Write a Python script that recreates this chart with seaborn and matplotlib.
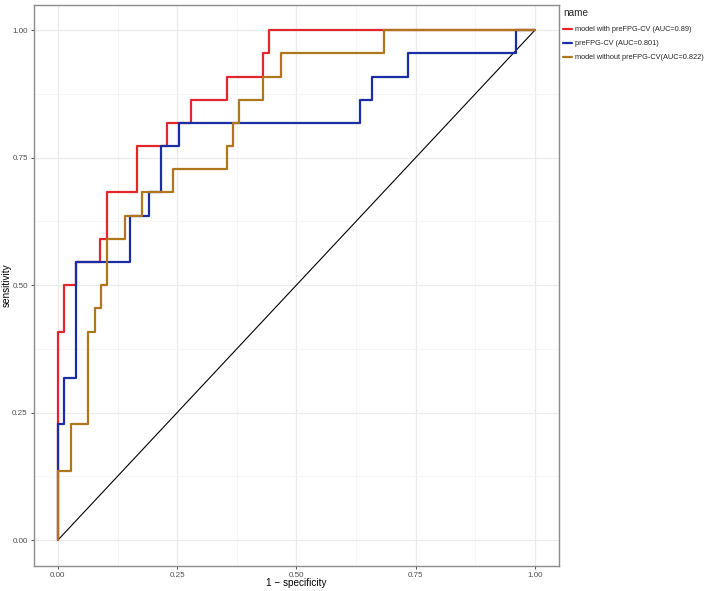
import pandas as pd
import numpy as np
import matplotlib
matplotlib.use("Agg")
import matplotlib.pyplot as plt
import seaborn as sns
from matplotlib.ticker import MultipleLocator

# ROC step points (fpr, tpr), 22 positive cases
red_fpr = [0, 0, 0.012, 0.039, 0.088, 0.102, 0.165, 0.228, 0.280, 0.354, 0.431, 0.443, 1.0]
red_tpr = [0, 9, 11, 12, 13, 15, 17, 18, 19, 20, 21, 22, 22]

blue_fpr = [0, 0, 0.013, 0.039, 0.152, 0.190, 0.216, 0.253, 0.633, 0.658, 0.735, 0.961, 1.0]
blue_tpr = [0, 5, 7, 12, 14, 15, 17, 18, 19, 20, 21, 22, 22]

brown_fpr = [0, 0, 0.027, 0.064, 0.077, 0.090, 0.102, 0.140, 0.177, 0.241, 0.355,
             0.367, 0.379, 0.431, 0.468, 0.683, 1.0]
brown_tpr = [0, 3, 5, 9, 10, 11, 13, 14, 15, 16, 17, 18, 19, 20, 21, 22, 22]

names = ["model with preFPG-CV (AUC=0.89)",
         "preFPG-CV (AUC=0.801)",
         "model without preFPG-CV(AUC=0.822)"]
colors = ["#E3262B", "#1A2DA6", "#B0761C"]

n_pos = 22
df = pd.concat([
    pd.DataFrame({"fpr": red_fpr, "tpr": np.array(red_tpr) / n_pos, "name": names[0]}),
    pd.DataFrame({"fpr": blue_fpr, "tpr": np.array(blue_tpr) / n_pos, "name": names[1]}),
    pd.DataFrame({"fpr": brown_fpr, "tpr": np.array(brown_tpr) / n_pos, "name": names[2]}),
])

sns.set_theme(style="whitegrid")
plt.rcParams['font.family'] = ['Liberation Sans', 'DejaVu Sans']

fig = plt.figure(figsize=(7.09, 5.91), dpi=100)
ax = fig.add_axes([0.048, 0.043, 0.740, 0.949])

sns.lineplot(data=df, x="fpr", y="tpr", hue="name", hue_order=names,
             palette=colors, estimator=None, sort=False, units="name",
             drawstyle="steps-post", linewidth=1.6, ax=ax)

# chance line
ax.plot([0, 1], [0, 1], color="black", linewidth=0.8, zorder=1)

ax.set_xlim(-0.05, 1.05)
ax.set_ylim(-0.05, 1.05)
ax.xaxis.set_major_locator(MultipleLocator(0.25))
ax.yaxis.set_major_locator(MultipleLocator(0.25))
ax.xaxis.set_minor_locator(MultipleLocator(0.125))
ax.yaxis.set_minor_locator(MultipleLocator(0.125))
ax.xaxis.set_major_formatter(lambda v, p: f"{v:.2f}")
ax.yaxis.set_major_formatter(lambda v, p: f"{v:.2f}")

ax.set_facecolor("white")
ax.grid(which="major", color="#EBEBEB", linewidth=0.9)
ax.grid(which="minor", color="#F4F4F4", linewidth=0.6)
ax.set_axisbelow(True)
for s in ax.spines.values():
    s.set_color("#8C8C8C")
    s.set_linewidth(1.0)

ax.tick_params(axis="both", which="major", labelsize=5.8, colors="#4D4D4D",
               length=2.5, width=0.7, pad=2, direction="out",
               bottom=True, left=True)
ax.tick_params(axis="both", which="minor", length=0)

ax.set_xlabel("1 \u2212 specificity", fontsize=7.2, color="black")
ax.set_ylabel("sensitivity", fontsize=7.2, color="black")
ax.xaxis.set_label_coords(0.5, -0.022, transform=ax.transAxes)
ax.xaxis.label.set_va("top")
ax.yaxis.set_label_coords(-0.042, 0.5, transform=ax.transAxes)

leg = ax.legend(title="name", loc="upper left", bbox_to_anchor=(0.998, 1.004),
                frameon=False, fontsize=5.3, title_fontsize=7.2,
                handlelength=1.3, handletextpad=0.4, labelspacing=0.95,
                borderaxespad=0.3)
leg._legend_box.align = "left"
leg._legend_box.sep = 6

fig.savefig("out.png", dpi=100)
